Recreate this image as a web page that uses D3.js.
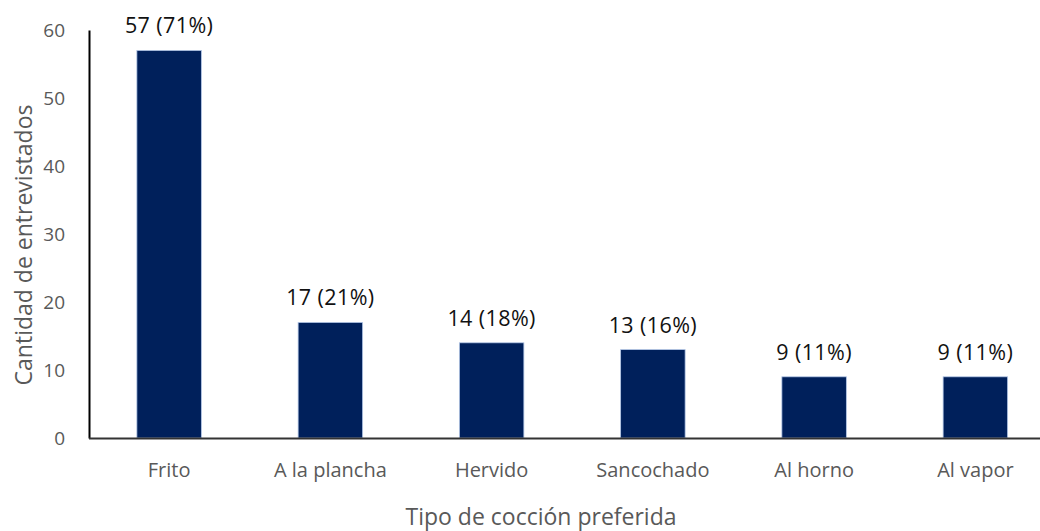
<!DOCTYPE html>
<html>
<head>
<meta charset="utf-8">
<script src="https://cdn.jsdelivr.net/npm/d3@7"></script>
<style>
  body { margin: 0; background: #fff; }
  svg text { font-family: "Open Sans", "Noto Sans", sans-serif; }
</style>
</head>
<body>
<div id="chart"></div>
<script>
// data
var categories = ["Frito", "A la plancha", "Hervido", "Sancochado", "Al horno", "Al vapor"];
var counts = [57, 17, 14, 13, 9, 9];
var percents = ["71%", "21%", "18%", "16%", "11%", "11%"];
var yTicks = [0, 10, 20, 30, 40, 50, 60];

var width = 1040,
    height = 531;

var svg = d3.select("#chart").append("svg")
    .attr("width", width)
    .attr("height", height);

var x = d3.scaleBand()
    .domain(categories)
    .range([88.5, 1056])
    .paddingInner(0.6)
    .paddingOuter(0.3);

var y = d3.scaleLinear()
    .domain([0, 60])
    .range([438, 30]);

// bars
svg.selectAll("rect.bar")
    .data(counts)
  .enter().append("rect")
    .attr("class", "bar")
    .attr("x", function(d, i) { return x(categories[i]); })
    .attr("y", function(d) { return y(d); })
    .attr("width", x.bandwidth())
    .attr("height", function(d) { return y(0) - y(d); })
    .style("fill", "#00205b")
    .style("stroke", "#b4c7e7")
    .style("stroke-width", "0.8px");

// value labels
svg.selectAll("text.val")
    .data(counts)
  .enter().append("text")
    .attr("class", "val")
    .attr("x", function(d, i) { return x(categories[i]) + x.bandwidth() / 2; })
    .attr("y", function(d) { return y(d) - 17; })
    .attr("text-anchor", "middle")
    .style("font-size", "21.5px")
    .style("font-weight", "500")
    .style("letter-spacing", "0.4px")
    .style("fill", "#111")
    .text(function(d, i) { return d + " (" + percents[i] + ")"; });

// y axis
var yAxis = d3.axisLeft(y)
    .tickValues(yTicks)
    .tickSize(0)
    .tickPadding(24);

var gy = svg.append("g")
    .attr("transform", "translate(89,0)")
    .call(yAxis);
gy.select(".domain").style("stroke", "#000").style("stroke-width", "2px");
gy.selectAll("text")
    .style("font-size", "19px")
    .style("fill", "#595959")
    .style("font-family", "'Open Sans', sans-serif");

// x axis
var xAxis = d3.axisBottom(x)
    .tickSize(0)
    .tickPadding(25);

var gx = svg.append("g")
    .attr("transform", "translate(0,438)")
    .call(xAxis);
gx.select(".domain").style("stroke", "#333").style("stroke-width", "2px");
gx.selectAll("text")
    .style("font-size", "20px")
    .style("fill", "#595959")
    .style("font-family", "'Open Sans', sans-serif");

// axis titles
svg.append("text")
    .attr("transform", "translate(32,245) rotate(-90)")
    .attr("text-anchor", "middle")
    .style("font-size", "23px")
    .style("fill", "#595959")
    .text("Cantidad de entrevistados");

svg.append("text")
    .attr("x", 541)
    .attr("y", 525)
    .attr("text-anchor", "middle")
    .style("font-size", "23px")
    .style("fill", "#595959")
    .text("Tipo de cocción preferida");
</script>
</body>
</html>
